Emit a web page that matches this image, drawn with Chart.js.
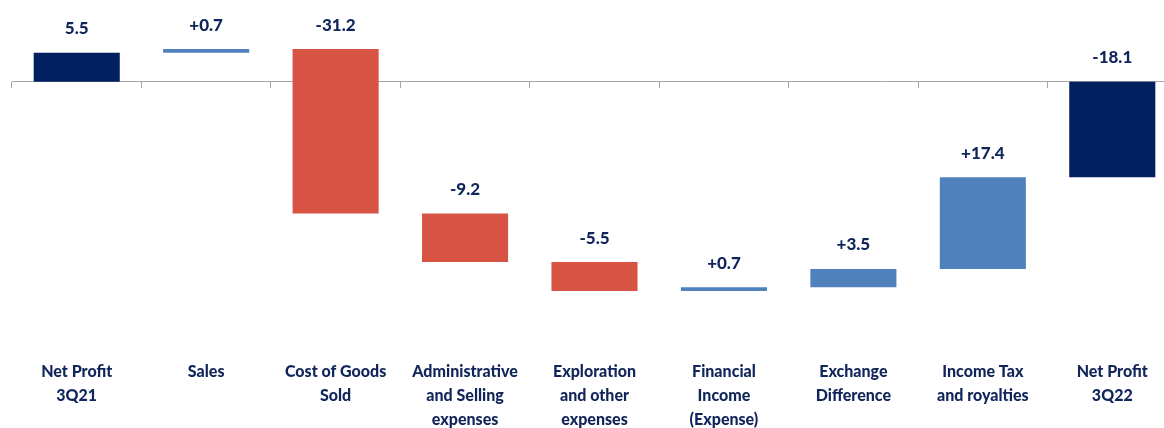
<!DOCTYPE html>
<html>
<head>
<meta charset="utf-8">
<script src="https://cdn.jsdelivr.net/npm/chart.js@4.4.1/dist/chart.umd.min.js"></script>
<style>
  html, body { margin: 0; padding: 0; background: #fff; overflow: hidden; }
  #wrap { position: relative; width: 1177px; height: 428px; }
</style>
</head>
<body>
<div id="wrap"><canvas id="bridge"></canvas></div>
<script>
// Net profit bridge, 3Q21 -> 3Q22 (USD million)
const categories = [
    ['Net Profit', '3Q21'],
    ['Sales'],
    ['Cost of Goods', 'Sold'],
    ['Administrative', 'and Selling', 'expenses'],
    ['Exploration', 'and other', 'expenses'],
    ['Financial', 'Income', '(Expense)'],
    ['Exchange', 'Difference'],
    ['Income Tax', 'and royalties'],
    ['Net Profit', '3Q22']
];
const changes = [5.5, 0.7, -31.2, -9.2, -5.5, 0.7, 3.5, 17.4, -18.1];
const isTotal = [true, false, false, false, false, false, false, false, true];
const valueLabels = ['5.5', '+0.7', '-31.2', '-9.2', '-5.5', '+0.7', '+3.5', '+17.4', '-18.1'];

const NAVY = '#002060';
const RED = '#d75444';
const BLUE = '#4f81bd';
const TEXT = '#10255a';
const AXIS = '#a6a6a6';

// floating bars: totals start at zero, changes start from the running total
let running = 0;
const ranges = changes.map((v, i) => {
    if (isTotal[i]) {
        running = v;
        return [0, v];
    }
    const from = running;
    running = running + v;
    return [from, running];
});
const colors = changes.map((v, i) => isTotal[i] ? NAVY : (v < 0 ? RED : BLUE));

const valueLabelPlugin = {
    id: 'valueLabels',
    afterDatasetsDraw(chart) {
        const meta = chart.getDatasetMeta(0);
        const ctx = chart.ctx;
        ctx.save();
        ctx.font = '900 17px Lato';
        ctx.fillStyle = TEXT;
        ctx.textAlign = 'center';
        ctx.textBaseline = 'middle';
        meta.data.forEach((bar, i) => {
            const top = Math.min(bar.y, bar.base);
            ctx.fillText(valueLabels[i], bar.x, top - 24);
        });
        ctx.restore();
    }
};

new Chart(document.getElementById('bridge'), {
    type: 'bar',
    data: {
        labels: categories,
        datasets: [{
            data: ranges,
            backgroundColor: colors,
            borderWidth: 0,
            barPercentage: 0.665,
            categoryPercentage: 1,
            xAxisID: 'x',
            yAxisID: 'y'
        }]
    },
    options: {
        responsive: true,
        maintainAspectRatio: false,
        animation: false,
        layout: { padding: { left: 12, right: 0, top: 0, bottom: 0 } },
        plugins: {
            legend: { display: false },
            tooltip: { enabled: false }
        },
        scales: {
            x: {
                type: 'category',
                position: { y: 0 },
                offset: true,
                grid: {
                    display: true,
                    drawOnChartArea: false,
                    drawTicks: true,
                    tickLength: 6,
                    color: AXIS,
                    offset: true
                },
                border: { display: true, color: AXIS, width: 1 },
                ticks: { display: false },
                afterFit(scale) { scale.height = 0; }
            },
            x2: {
                type: 'category',
                position: 'bottom',
                labels: categories,
                offset: true,
                grid: { display: false },
                border: { display: false },
                ticks: {
                    padding: 4,
                    maxRotation: 0,
                    autoSkip: false,
                    color: TEXT,
                    font: { family: 'Lato', size: 16, weight: 900, lineHeight: 1.5 }
                },
                afterFit(scale) { scale.height = 80; }
            },
            y: {
                display: false,
                min: -50.5,
                max: 15.5
            }
        }
    },
    plugins: [valueLabelPlugin]
});
</script>
</body>
</html>
